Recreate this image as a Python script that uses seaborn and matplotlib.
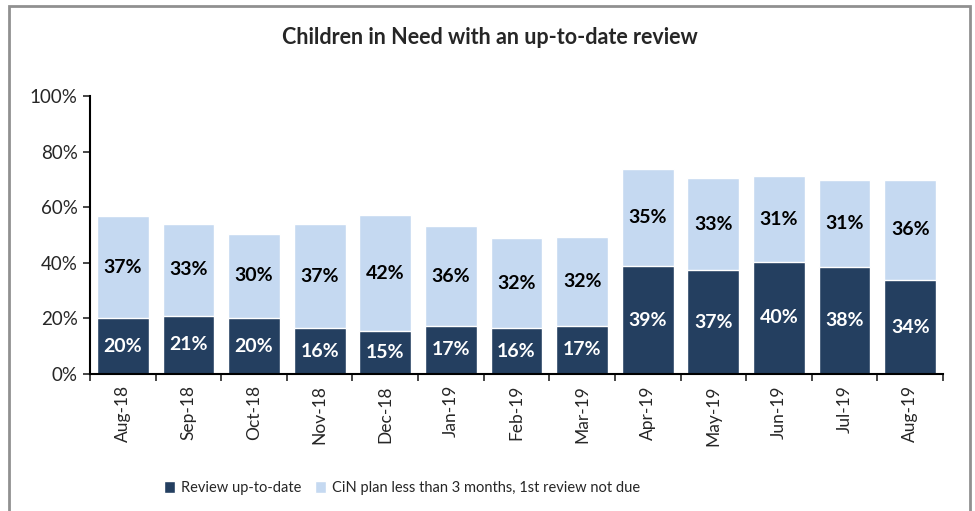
import seaborn as sns
import numpy as np
import pandas as pd
import matplotlib.pyplot as plt
from matplotlib.patches import Patch, Rectangle
from matplotlib.ticker import PercentFormatter, FixedLocator

months = ["Aug-18", "Sep-18", "Oct-18", "Nov-18", "Dec-18", "Jan-19", "Feb-19",
          "Mar-19", "Apr-19", "May-19", "Jun-19", "Jul-19", "Aug-19"]
review_up_to_date = [20.1, 20.9, 20.1, 16.4, 15.4, 17.4, 16.4, 17.4, 38.8, 37.3, 40.4, 38.4, 33.8]
plan_not_due = [36.7, 33.1, 30.4, 37.4, 41.7, 35.7, 32.4, 31.8, 34.9, 33.1, 30.7, 31.3, 36.0]

dark = "#243F60"
light = "#C5D9F1"

sns.set_style("white")
plt.rcParams['font.family'] = ['Lato', 'DejaVu Sans']

df = pd.DataFrame({"month": months, "review": review_up_to_date, "plan": plan_not_due})
df["total"] = df["review"] + df["plan"]

fig = plt.figure(figsize=(9.75, 5.11), dpi=100)
ax = fig.add_axes([90 / 975, 1 - 374 / 511, 853 / 975, 278 / 511])

# stacked: light total first, dark part drawn over it
sns.barplot(data=df, x="month", y="total", color=light, width=0.79, saturation=1, ax=ax)
sns.barplot(data=df, x="month", y="review", color=dark, width=0.79, saturation=1, ax=ax)

for i, (r, p) in enumerate(zip(review_up_to_date, plan_not_due)):
    ax.text(i, r / 2, f"{round(r)}%", ha="center", va="center", color="white",
            fontsize=14, fontweight="bold")
    ax.text(i, r + p / 2, f"{round(p)}%", ha="center", va="center", color="black",
            fontsize=14, fontweight="bold")

ax.set_ylim(0, 100)
ax.set_xlim(-0.5, len(months) - 0.5)
ax.yaxis.set_major_locator(FixedLocator(np.arange(0, 101, 20)))
ax.yaxis.set_major_formatter(PercentFormatter(decimals=0))
ax.set_xlabel("")
ax.set_ylabel("")
ax.tick_params(axis="y", which="major", left=True, length=5, width=1.2, labelsize=13.5, pad=4)
ax.tick_params(axis="x", which="major", length=0, labelsize=12.5, pad=8)
ax.set_xticks(range(len(months)))
ax.set_xticklabels(months, rotation=90)
ax.xaxis.set_minor_locator(FixedLocator(np.arange(-0.5, len(months), 1)))
ax.tick_params(axis="x", which="minor", bottom=True, length=5, width=1.2)

for s in ["top", "right"]:
    ax.spines[s].set_visible(False)
for s in ["left", "bottom"]:
    ax.spines[s].set_color("black")
    ax.spines[s].set_linewidth(1.5)

fig.text(490 / 975, 1 - 37 / 511, "Children in Need with an up-to-date review",
         ha="center", va="center", fontsize=15.5, fontweight="bold")

handles = [Patch(facecolor=dark, label="Review up-to-date"),
           Patch(facecolor=light, label="CiN plan less than 3 months, 1st review not due")]
fig.legend(handles=handles, loc="center", bbox_to_anchor=(402 / 975, 1 - 488 / 511),
           ncol=2, frameon=False, fontsize=10.5, handlelength=0.8, handleheight=0.8,
           handletextpad=0.4, columnspacing=0.9)

fig.patches.append(Rectangle((9 / 975, -0.1), 961 / 975, 1.1 - 6 / 511,
                             transform=fig.transFigure, fill=False,
                             edgecolor="#909090", linewidth=2))

fig.savefig("out.png", dpi=100)
